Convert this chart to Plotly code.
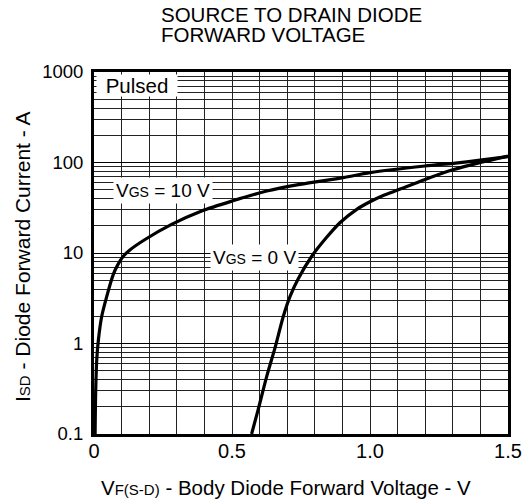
import plotly.graph_objects as go

# ---- data ----
v_gs10 = [0.004, 0.006, 0.010, 0.016, 0.028, 0.046, 0.070, 0.085, 0.106, 0.130, 0.185,
          0.281, 0.390, 0.500, 0.626, 0.746, 0.903, 1.000, 1.199, 1.302, 1.399, 1.500]
i_gs10 = [0.1, 0.285, 0.665, 1.1, 2.0, 3.3, 5.8, 7.3, 9.2, 10.8, 14.1,
          20.7, 29.1, 37.5, 48.4, 57.4, 68.1, 77.3, 91.5, 98.0, 106.0, 116.0]

v_gs0 = [0.571, 0.595, 0.626, 0.656, 0.686, 0.710, 0.740, 0.789, 0.843, 0.891,
         0.952, 1.000, 1.050, 1.100, 1.200, 1.300, 1.400, 1.500]
i_gs0 = [0.1, 0.187, 0.436, 0.9, 2.0, 3.3, 5.2, 9.2, 14.9, 21.6,
         30.4, 36.8, 43.4, 49.6, 65.0, 83.0, 100.0, 118.0]

x_tickvals = [0, 0.5, 1.0, 1.5]
x_ticktext = ["0", "0.5", "1.0", "1.5"]
y_tickvals = [0.1, 1, 10, 100, 1000]
y_ticktext = ["0.1", "1", "10", "100", "1000"]

title_lines = ["SOURCE TO DRAIN DIODE", "FORWARD VOLTAGE"]
x_title = "V<span style='font-size:15px'>F(S-D)</span> - Body Diode Forward Voltage - V"
y_title = "I<span style='font-size:15px'>SD</span> - Diode Forward Current - A"
label_10 = "V<span style='font-size:14px'>GS</span> = 10 V"
label_0 = "V<span style='font-size:14px'>GS</span> = 0 V"

FONT = "Liberation Sans, Arial, sans-serif"
FW, FH = 523, 504
L, T, PW, PH = 94, 72, 414, 362
R = FW - L - PW
B = FH - T - PH


def px_x(p):
    return (p - L) / PW


def px_y(p):
    return (T + PH - p) / PH


fig = go.Figure()
for vx, iy in [(v_gs10, i_gs10), (v_gs0, i_gs0)]:
    fig.add_trace(go.Scatter(x=vx, y=iy, mode="lines",
                             line=dict(color="black", width=3.2, shape="spline", smoothing=0.8),
                             showlegend=False, hoverinfo="skip"))

minor_y = [m * 10 ** d for d in range(-1, 3) for m in range(2, 10)]

fig.update_layout(
    width=FW, height=FH,
    margin=dict(l=L, r=R, t=T, b=B, pad=0),
    paper_bgcolor="white", plot_bgcolor="white",
    font=dict(family=FONT, color="black", size=20),
    showlegend=False,
    xaxis=dict(range=[0, 1.5], tickvals=x_tickvals, ticktext=x_ticktext,
               showgrid=True, gridcolor="#222", gridwidth=1,
               minor=dict(dtick=0.1, showgrid=True, gridcolor="#222", gridwidth=1),
               showline=True, linecolor="black", linewidth=3, mirror=True,
               ticks="", ticklabelstandoff=-3, zeroline=False, automargin=False,
               tickfont=dict(size=20)),
    yaxis=dict(type="log", range=[-1, 3], tickvals=y_tickvals, ticktext=y_ticktext,
               showgrid=True, gridcolor="black", gridwidth=1,
               minor=dict(tickvals=minor_y, showgrid=True, gridcolor="#222", gridwidth=1),
               showline=True, linecolor="black", linewidth=3, mirror=True,
               ticks="", ticklabelstandoff=4, zeroline=False, automargin=False,
               tickfont=dict(size=18.5)),
)

# title lines (caps centres in page pixels)
for line, cy in zip(title_lines, [14.7, 34.5]):
    fig.add_annotation(text=line, xref="paper", yref="paper", x=px_x(159),
                       y=px_y(cy), xanchor="left", yanchor="middle", height=19,
                       showarrow=False, font=dict(size=20.5))

# axis titles
fig.add_annotation(text=x_title, xref="paper", yref="paper", x=px_x(285.8), y=px_y(487),
                   xanchor="center", yanchor="middle", showarrow=False,
                   font=dict(size=20.5))
fig.add_annotation(text=y_title, xref="paper", yref="paper", x=px_x(22), y=px_y(257),
                   xanchor="center", yanchor="middle", textangle=-90, showarrow=False,
                   font=dict(size=21))

# Pulsed box
fig.add_annotation(text="Pulsed", xref="paper", yref="paper", x=0, y=1,
                   xanchor="left", yanchor="top", xshift=2, yshift=-2,
                   showarrow=False, bgcolor="white", width=78, height=19,
                   font=dict(size=20.5))

# curve labels
fig.add_annotation(text=label_10, x=0.25, y=1.695, xref="x", yref="y",
                   showarrow=False, bgcolor="white", borderpad=2, font=dict(size=19))
fig.add_annotation(text=label_0, x=0.58, y=0.951, xref="x", yref="y",
                   showarrow=False, bgcolor="white", borderpad=2, font=dict(size=19))

# remove the default 8 px body margin so the figure fills the window exactly
fig.write_html("out.html", config={"displayModeBar": False},
               post_script="document.body.style.margin='0px';")
